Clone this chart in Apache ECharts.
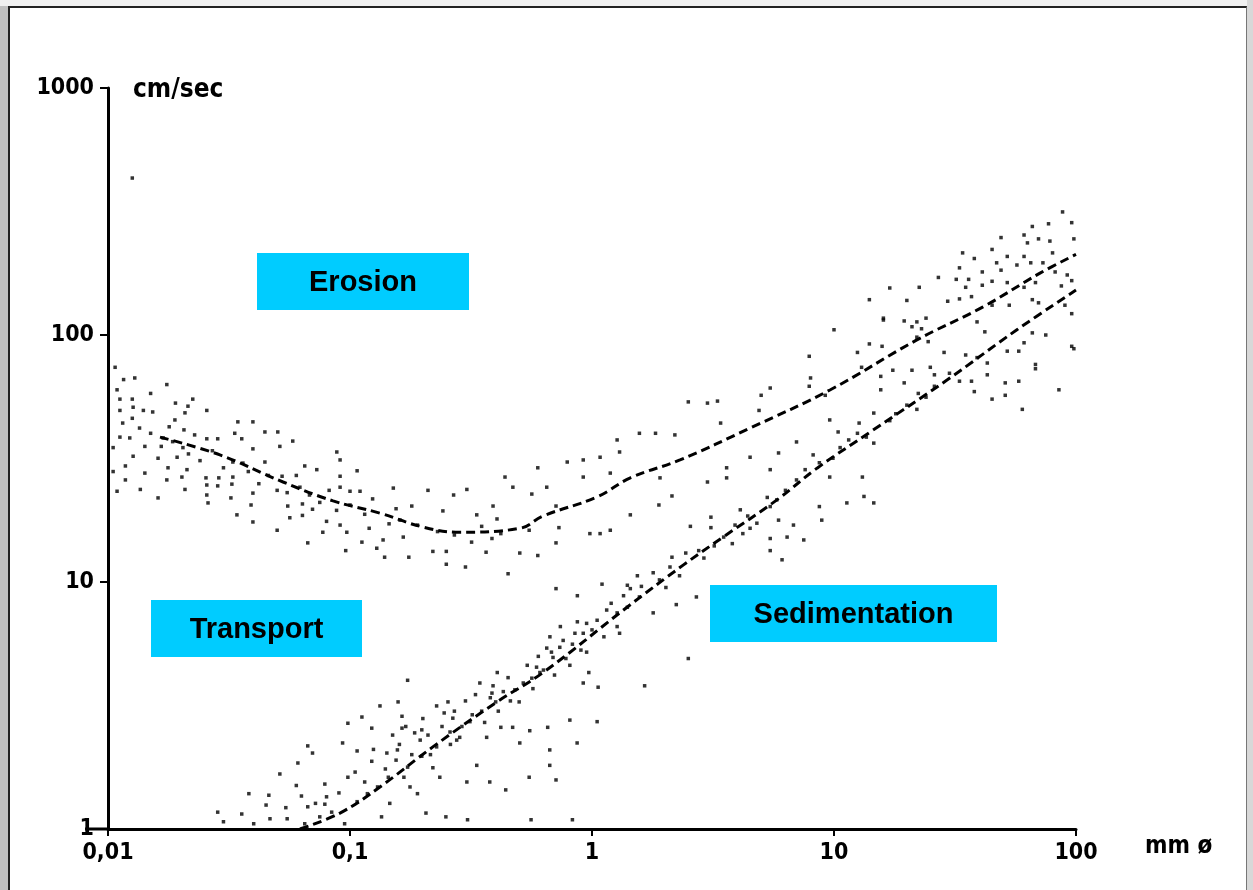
<!DOCTYPE html>
<html>
<head>
<meta charset="utf-8">
<script src="https://cdn.jsdelivr.net/npm/echarts@6/dist/echarts.min.js"></script>
<style>
  body { margin: 0; background: #fff; }
  #frameLeft { position: absolute; left: 0; top: 0; width: 8px; height: 890px; background: #c0c0c0; }
  #frameTop { position: absolute; left: 0; top: 0; width: 1253px; height: 6px; background: #f0f0f0; }
  #frameRight { position: absolute; left: 1247px; top: 0; width: 6px; height: 890px; background: #d8d8d8; }
  #inner { position: absolute; left: 8px; top: 6px; width: 1239px; height: 884px;
           border-left: 2px solid #222; border-top: 2px solid #222; border-right: 1px solid #777; box-sizing: border-box; }
  #res { position: absolute; left: 0; top: 0; width: 1253px; height: 890px; }
</style>
</head>
<body>
<div id="frameLeft"></div>
<div id="frameTop"></div>
<div id="frameRight"></div>
<div id="inner"></div>
<div id="res"></div>
<script>
// grain size (mm) vs. flow velocity (cm/sec)
let xTicks = [0.01, 0.1, 1, 10, 100];
let yTicks = [1, 10, 100, 1000];

let erosionCurve = [[0.0164, 38.6], [0.029, 32.7], [0.0529, 25.4], [0.0851, 21.3], [0.133, 19.0], [0.2, 16.7],
  [0.284, 15.9], [0.504, 16.5], [0.628, 18.5], [1.05, 22.1], [1.44, 26.4], [2.31, 31.2], [4.5, 42.0],
  [9.62, 59.9], [22.0, 95.5], [41.3, 130], [71.0, 178], [100, 212]];

let sedimentCurve = [[0.0621, 1], [0.0909, 1.16], [0.133, 1.48], [0.22, 2.15], [0.405, 3.27], [0.628, 4.3],
  [1.4, 7.92], [2.38, 11.7], [3.48, 15.2], [5.81, 21.5], [8.51, 28.9], [14.5, 41.2], [29.3, 65.7],
  [57.0, 105], [100, 152]];

let upperBandDots = [[0.0107, 74], [0.0129, 67], [0.0116, 66], [0.0109, 60], [0.0175, 63], [0.0224, 55], [0.0112, 55],
  [0.0126, 55], [0.0112, 49.5], [0.0127, 51], [0.014, 49.5], [0.0153, 48.8], [0.0214, 51.5], [0.0256, 49.5],
  [0.0208, 48.4], [0.0126, 46], [0.0189, 45.3], [0.0344, 44.5], [0.0397, 44.5], [0.0179, 42.5], [0.0206, 41.3],
  [0.0112, 38.6], [0.0123, 38.3], [0.0169, 38.3], [0.0228, 39.4], [0.0256, 38], [0.0284, 38], [0.0334, 40],
  [0.0357, 38], [0.0445, 40.5], [0.0503, 40.5], [0.058, 37.2], [0.0142, 35.4], [0.0166, 35.4], [0.0204, 35],
  [0.0397, 34.6], [0.0513, 35.4], [0.0882, 33.6], [0.0127, 32.3], [0.0161, 31.7], [0.0193, 32], [0.0328, 30.6],
  [0.0361, 30.3], [0.0445, 30.6], [0.065, 29.5], [0.091, 31.2], [0.0118, 29.5], [0.0177, 29], [0.0212, 28.5],
  [0.0729, 28.5], [0.107, 28.2], [0.0142, 27.6], [0.0202, 26.6], [0.0254, 26.4], [0.0287, 26.4], [0.0328, 26.6],
  [0.0524, 26.8], [0.091, 26.8], [0.0118, 25.9], [0.0175, 25.9], [0.0256, 24.7], [0.0284, 24.5], [0.0325, 24.9],
  [0.0621, 24.2], [0.091, 24.2], [0.1, 23.3], [0.11, 23.3], [0.0109, 23.3], [0.0136, 23.7], [0.0208, 23.7],
  [0.0397, 22.9], [0.0256, 22.5], [0.0322, 21.9], [0.0161, 21.9], [0.05, 23.5], [0.124, 21.7], [0.151, 24],
  [0.21, 23.5], [0.304, 23.7], [0.268, 22.5], [0.437, 26.6], [0.597, 29], [0.471, 24.2], [0.564, 22.7],
  [0.0259, 20.9], [0.039, 20.5], [0.0553, 20.3], [0.0636, 20.7], [0.07, 19.7], [0.18, 20.3], [0.242, 19.4],
  [0.39, 20.3], [0.0341, 18.7], [0.0636, 18.6], [0.08, 17.6], [0.334, 18.7], [0.405, 18], [0.0397, 17.5],
  [0.0564, 18.2], [0.091, 17], [0.161, 17.8], [0.05, 16.2], [0.0772, 15.9], [0.097, 15.9], [0.166, 15.2],
  [0.112, 14.5], [0.0669, 14.4], [0.137, 14.8], [0.22, 13.3], [0.25, 13.3], [0.318, 14.5], [0.386, 15],
  [0.096, 13.4], [0.129, 13.7], [0.139, 12.6], [0.175, 12.6], [0.365, 13.2], [0.503, 13.1], [0.597, 12.8],
  [0.3, 11.5], [0.45, 10.8], [0.25, 11.8],
  [0.0115, 44], [0.0135, 42], [0.015, 40], [0.0185, 37], [0.0215, 33], [0.024, 31], [0.027, 34], [0.03, 29],
  [0.038, 28], [0.042, 25], [0.046, 27], [0.055, 23], [0.06, 27], [0.068, 22.5], [0.075, 21], [0.082, 23.5],
  [0.088, 19.5], [0.1, 20.5], [0.115, 18.8], [0.12, 16.5], [0.145, 17.2], [0.155, 19.8], [0.19, 17], [0.23, 16],
  [0.27, 15.5], [0.35, 16.8], [0.42, 15.7], [0.55, 16.2], [0.015, 58], [0.019, 53], [0.0105, 35], [0.0105, 28],
  [0.98, 15.7], [1.08, 15.7], [0.71, 14.4], [0.73, 16.6], [0.92, 31.2], [0.79, 30.6], [0.65, 24.2], [0.71, 20.3],
  [0.92, 26.6], [1.19, 27.6], [1.08, 32], [1.27, 37.6], [1.57, 40], [1.83, 40], [1.91, 26.4], [2.14, 22.3],
  [1.44, 18.7], [1.89, 20.5], [1.19, 16.2], [1.3, 33.6], [2.2, 39.4], [2.5, 53.6], [3.0, 53], [3.4, 44],
  [4.9, 49.5], [5.45, 61], [7.9, 62], [9.2, 57], [9.6, 45.3], [10.4, 40.5], [12.7, 44], [14.6, 48.3],
  [7.0, 36.9], [5.9, 33.3], [3.0, 25.4], [3.6, 26.4], [3.6, 29], [3.1, 18.3], [4.5, 32], [5.45, 28.5],
  [7.9, 82], [8.0, 67], [5.0, 57], [3.3, 54], [16, 115], [14, 139], [10, 105], [0.0126, 432]];

let lowerBandDots = [[0.0284, 1.17], [0.03, 1.07], [0.0357, 1.15], [0.0382, 1.39], [0.0462, 1.37], [0.0467, 1.1],
  [0.0513, 1.67], [0.0543, 1.22], [0.0609, 1.85], [0.063, 1.36], [0.0669, 2.17], [0.07, 2.03], [0.0669, 1.23],
  [0.072, 1.27], [0.0787, 1.52], [0.0787, 1.26], [0.084, 1.17], [0.0932, 2.23], [0.098, 2.68], [0.098, 1.62],
  [0.107, 2.07], [0.107, 1.29], [0.112, 2.84], [0.123, 2.56], [0.123, 1.88], [0.13, 1.48], [0.135, 1.12],
  [0.118, 1.39], [0.133, 3.15], [0.142, 2.03], [0.144, 1.62], [0.146, 1.27], [0.157, 2.09], [0.158, 3.27],
  [0.164, 2.56], [0.164, 2.86], [0.167, 1.62], [0.173, 1.78], [0.173, 4.0], [0.177, 1.48], [0.19, 1.39],
  [0.195, 2.29], [0.198, 1.97], [0.198, 2.52], [0.206, 1.16], [0.22, 1.77], [0.228, 2.15], [0.228, 3.15],
  [0.235, 1.62], [0.249, 1.12], [0.254, 3.27], [0.259, 2.47], [0.266, 2.81], [0.276, 2.29], [0.284, 2.35],
  [0.304, 1.55], [0.306, 1.09], [0.313, 2.72], [0.334, 1.81], [0.344, 3.9], [0.367, 2.35], [0.378, 1.55],
  [0.386, 3.55], [0.4, 3.27], [0.406, 4.3], [0.42, 2.58], [0.44, 1.44], [0.47, 2.58], [0.48, 3.66], [0.5, 3.27],
  [0.503, 2.23], [0.55, 1.62], [0.553, 2.5], [0.564, 4.08], [0.59, 4.52], [0.609, 4.3], [0.656, 2.58],
  [0.669, 2.09], [0.669, 1.81], [0.69, 4.95], [0.736, 5.44], [0.81, 4.6], [0.81, 2.76], [0.868, 2.23],
  [0.92, 3.9], [0.95, 5.2], [0.97, 4.3], [1.05, 2.72], [1.06, 3.75], [0.56, 1.09], [0.71, 1.58], [0.83, 1.09],
  [0.09, 1.4], [0.095, 1.05], [0.105, 1.7], [0.115, 1.55], [0.125, 2.1], [0.14, 1.75], [0.15, 2.4], [0.155, 1.9],
  [0.16, 2.2], [0.17, 2.6], [0.18, 2.0], [0.185, 2.45], [0.2, 2.8], [0.21, 2.4], [0.215, 2.0], [0.24, 2.6],
  [0.245, 2.95], [0.26, 2.2], [0.27, 3.0], [0.29, 2.6], [0.3, 3.3], [0.32, 2.9], [0.33, 3.5], [0.35, 3.0],
  [0.36, 2.7], [0.38, 3.4], [0.39, 3.8], [0.41, 3.0], [0.43, 3.6], [0.45, 4.1], [0.46, 3.3], [0.52, 3.9],
  [0.54, 4.6], [0.57, 3.7], [0.6, 5.0], [0.63, 4.4], [0.68, 5.2], [0.7, 4.2], [0.76, 5.8], [0.78, 4.9],
  [0.85, 6.2], [0.9, 5.3], [0.95, 6.8], [1.12, 6.0], [1.2, 8.2], [1.35, 8.8], [1.6, 9.6], [1.9, 10.2],
  [2.1, 11.5], [2.3, 10.6], [2.9, 12.5], [3.2, 14.0], [3.9, 17.0], [4.4, 18.5], [0.065, 1.05], [0.075, 1.12],
  [0.08, 1.35], [0.06, 1.5], [0.055, 1.1], [0.045, 1.25], [0.04, 1.05],
  [1.05, 7], [1.27, 6.6], [1.4, 7.9], [1.57, 8.7], [1.0, 6.4], [0.92, 6.2], [0.83, 5.6], [0.74, 6.6], [0.67, 6.0],
  [0.65, 5.4], [1.15, 7.7], [1.44, 9.4], [1.79, 7.5], [0.87, 6.9], [1.3, 6.2],
  [0.71, 9.4], [0.87, 8.8], [1.1, 9.8], [1.27, 7.5], [1.4, 9.7], [1.54, 10.6], [1.79, 10.9], [2.02, 9.5],
  [2.23, 8.1], [2.7, 8.7], [2.14, 12.6], [2.44, 13.1], [2.55, 16.8], [2.76, 13.4], [3.1, 16.6], [3.5, 15.2],
  [3.8, 14.3], [4.2, 15.7], [4.1, 19.6], [4.5, 16.5], [4.8, 17.3], [5.45, 15], [5.45, 13.4], [6.1, 12.3],
  [5.45, 20.2], [5.9, 17.8], [6.8, 17], [6.4, 15.2], [7.5, 14.8], [5.3, 22], [5.8, 21.5], [6.3, 23.5],
  [7.0, 25.9], [7.6, 28.5], [8.2, 32.7], [8.7, 30.4], [9.9, 31.7], [10.6, 35], [11.5, 37.6], [12.5, 40],
  [13.6, 38.6], [14.6, 36.5], [9.6, 26.6], [8.7, 20.2], [11.3, 20.9], [13.1, 26.6], [13.3, 22.2], [14.6, 20.9],
  [8.9, 17.8], [2.5, 4.9], [1.65, 3.8], [3.3, 6.2], [4.6, 8.4]];

let rightBandDots = [[88, 315], [96, 285], [66, 275], [77, 282], [61, 254], [70, 245], [78, 240], [98, 245], [63, 236],
  [49, 248], [45, 222], [34, 215], [38, 204], [52, 208], [61, 208], [47, 196], [57, 192], [65, 196], [73, 196],
  [80, 215], [33, 187], [41, 180], [49, 183], [82, 180], [92, 175], [27, 171], [32, 168], [36, 168], [45, 165],
  [52, 163], [68, 163], [87, 158], [96, 166], [17, 155], [22.5, 156], [35, 156], [41, 159], [61, 156],
  [29.5, 137], [33, 140], [37, 143], [20, 138], [45, 132], [53, 132], [66, 139], [70, 135], [90, 132],
  [16, 117], [19.5, 114], [21, 108], [22, 113], [24, 117], [23, 106], [39, 113], [42, 103], [61, 93], [66, 102],
  [96, 122], [96, 90], [14, 92], [15.8, 90], [24.5, 94], [22, 98], [28.5, 85], [35, 83], [39, 81], [43, 77],
  [52, 86], [58, 86], [68, 76], [12.5, 85], [13, 74], [15.6, 68], [17.5, 72], [21, 72], [25, 74], [26, 69],
  [30, 70], [33, 65], [37, 65], [43, 69], [51, 64], [58, 65], [68, 73], [15.6, 60], [19.5, 64], [22.3, 58],
  [38, 59], [51, 57], [18, 48], [20, 52], [24, 56], [17, 45], [22, 50], [26, 62], [45, 55], [60, 50],
  [85, 60], [98, 88], [75, 100]];

let labelFont = 'DejaVu Sans Condensed, DejaVu Sans, sans-serif';

let chartDom = document.getElementById('res');
let myChart = echarts.init(chartDom, null, {renderer: 'canvas'});

function box(x, y, w, h, txt) {
  return [
    {type: 'rect', shape: {x: x, y: y, width: w, height: h}, style: {fill: '#00CCFF'}, z: 100},
    {
      type: 'text', x: x + w / 2, y: y + h / 2 + 1, z: 101,
      style: {
        text: txt, align: 'center', verticalAlign: 'middle',
        font: 'bold 29px "Liberation Sans", Arial, sans-serif', fill: '#000',
        shadowColor: '#ffffff', shadowOffsetX: 1.5, shadowOffsetY: 1.5, shadowBlur: 0
      }
    }
  ];
}

let dotStyle = {color: '#000'};

let option = {
  animation: false,
  backgroundColor: 'transparent',
  grid: {left: 108, right: 177, top: 88, bottom: 61},
  xAxis: {
    type: 'log', min: 0.01, max: 100, logBase: 10,
    axisLine: {lineStyle: {color: '#000', width: 3}},
    axisTick: {length: 7, lineStyle: {color: '#000', width: 2}},
    minorTick: {show: false},
    splitLine: {show: false},
    axisLabel: {
      color: '#000', fontSize: 23, fontWeight: 'bold', fontFamily: labelFont, margin: 13,
      formatter: function (v) { return String(v).replace('.', ','); }
    }
  },
  yAxis: {
    type: 'log', min: 1, max: 1000, logBase: 10,
    axisLine: {lineStyle: {color: '#000', width: 3}},
    axisTick: {length: 8, lineStyle: {color: '#000', width: 2}},
    minorTick: {show: false},
    splitLine: {show: false},
    axisLabel: {
      color: '#000', fontSize: 23, fontWeight: 'bold', fontFamily: labelFont, margin: 14,
      formatter: function (v) { return String(v); }
    }
  },
  graphic: [
    {type: 'line', shape: {x1: 85, y1: 829, x2: 108, y2: 829}, style: {stroke: '#000', lineWidth: 3}},
    {type: 'text', x: 133, y: 90, style: {text: 'cm/sec', font: 'bold 26px ' + labelFont, fill: '#000', verticalAlign: 'middle'}},
    {type: 'text', x: 1145, y: 847, style: {text: 'mm ø', font: 'bold 24px ' + labelFont, fill: '#000', verticalAlign: 'middle'}}
  ].concat(box(257, 253, 212, 57, 'Erosion'))
   .concat(box(151, 600, 211, 57, 'Transport'))
   .concat(box(710, 585, 287, 57, 'Sedimentation')),
  series: [
    {name: 'upper', type: 'scatter', symbol: 'rect', symbolSize: 3.5, itemStyle: dotStyle, data: upperBandDots},
    {name: 'lower', type: 'scatter', symbol: 'rect', symbolSize: 3.5, itemStyle: dotStyle, data: lowerBandDots},
    {name: 'right', type: 'scatter', symbol: 'rect', symbolSize: 3.5, itemStyle: dotStyle, data: rightBandDots},
    {
      name: 'erosion', type: 'line', smooth: 0.4, symbol: 'none', data: erosionCurve,
      lineStyle: {color: '#000', width: 3, type: [9, 5]}
    },
    {
      name: 'sediment', type: 'line', smooth: 0.4, symbol: 'none', data: sedimentCurve,
      lineStyle: {color: '#000', width: 3, type: [9, 5]}
    }
  ]
};

option && myChart.setOption(option);
</script>
</body>
</html>
